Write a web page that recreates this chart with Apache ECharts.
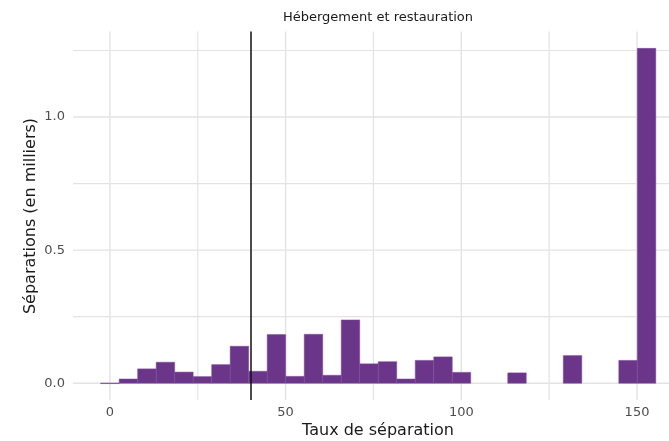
<!DOCTYPE html>
<html>
<head>
<meta charset="utf-8">
<script src="https://cdn.jsdelivr.net/npm/echarts@6/dist/echarts.min.js"></script>
<style>
  html, body { margin: 0; padding: 0; background: #ffffff; }
  #chart { width: 669px; height: 441px; }
</style>
</head>
<body>
<div id="chart"></div>
<script>
// Histogram of separation rates: bin centres (rate) and separations (thousands)
const binWidth = 5.266;
const binCenters = [0, 5.27, 10.53, 15.8, 21.06, 26.33, 31.6, 36.86, 42.13, 47.39,
  52.66, 57.93, 63.19, 68.46, 73.72, 78.99, 84.26, 89.52, 94.79, 100.05,
  105.32, 110.59, 115.85, 121.12, 126.38, 131.65, 136.92, 142.18, 147.45, 152.71];
const separations = [0.001, 0.016, 0.054, 0.079, 0.042, 0.025, 0.070, 0.139, 0.045, 0.183,
  0.026, 0.184, 0.030, 0.238, 0.073, 0.081, 0.016, 0.086, 0.099, 0.041,
  0, 0, 0.039, 0, 0, 0.104, 0, 0, 0.086, 1.258];

const xTicks = [0, 50, 100, 150];
const xMinorTicks = [25, 75, 125];
const yTicks = [0, 0.5, 1.0];
const yMinorTicks = [0.25, 0.75, 1.25];
const thresholdRate = 40;

const font = 'DejaVu Sans';
const barColor = '#6b3589';
const xRange = [-10.5, 159.1];
const yRange = [-0.0629, 1.321];

const histData = binCenters.map((c, i) => [c, separations[i]]).filter(d => d[1] > 0);

// grid line specs: [axis (0 = vertical, 1 = horizontal), value, major flag]
const gridData = [];
xTicks.forEach(v => gridData.push([0, v, 1]));
xMinorTicks.forEach(v => gridData.push([0, v, 0]));
yTicks.forEach(v => gridData.push([1, v, 1]));
yMinorTicks.forEach(v => gridData.push([1, v, 0]));

const chart = echarts.init(document.getElementById('chart'), null, { renderer: 'canvas' });
chart.setOption({
  animation: false,
  backgroundColor: '#ffffff',
  grid: { left: 73, right: 0, top: 31.6, bottom: 41 },
  xAxis: {
    type: 'value',
    min: xRange[0],
    max: xRange[1],
    axisLine: { show: false },
    axisTick: { show: false },
    splitLine: { show: false },
    axisLabel: {
      customValues: xTicks,
      color: '#4d4d4d',
      fontFamily: font,
      fontSize: 13,
      margin: 6,
      formatter: v => String(v)
    }
  },
  yAxis: {
    type: 'value',
    min: yRange[0],
    max: yRange[1],
    axisLine: { show: false },
    axisTick: { show: false },
    splitLine: { show: false },
    axisLabel: {
      customValues: yTicks,
      color: '#4d4d4d',
      fontFamily: font,
      fontSize: 13,
      margin: 8,
      formatter: v => v.toFixed(1)
    }
  },
  graphic: [
    {
      type: 'text',
      x: 378,
      y: 18,
      style: { text: 'Hébergement et restauration', font: '13px "DejaVu Sans"', fill: '#1a1a1a', align: 'center', verticalAlign: 'middle' }
    },
    {
      type: 'text',
      x: 378,
      y: 431,
      style: { text: 'Taux de séparation', font: '16px "DejaVu Sans"', fill: '#1a1a1a', align: 'center', verticalAlign: 'middle' }
    },
    {
      type: 'text',
      x: 31,
      y: 216,
      rotation: Math.PI / 2,
      style: { text: 'Séparations (en milliers)', font: '16px "DejaVu Sans"', fill: '#1a1a1a', align: 'center', verticalAlign: 'middle' }
    }
  ],
  series: [
    {
      type: 'custom',
      z: 0,
      silent: true,
      data: gridData,
      renderItem: (params, api) => {
        const axis = api.value(0);
        const v = api.value(1);
        const major = api.value(2) === 1;
        let a, b;
        if (axis === 0) {
          a = api.coord([v, yRange[1]]);
          b = api.coord([v, yRange[0]]);
        } else {
          a = api.coord([xRange[0], v]);
          b = api.coord([xRange[1], v]);
        }
        return {
          type: 'line',
          shape: { x1: a[0], y1: a[1], x2: b[0], y2: b[1] },
          style: { stroke: '#e3e3e3', lineWidth: major ? 1.4 : 1.2 }
        };
      }
    },
    {
      type: 'custom',
      z: 2,
      silent: true,
      data: histData,
      renderItem: (params, api) => {
        const c = api.value(0);
        const v = api.value(1);
        const p0 = api.coord([c - binWidth / 2, v]);
        const p1 = api.coord([c + binWidth / 2, 0]);
        return {
          type: 'rect',
          shape: { x: p0[0], y: p0[1], width: p1[0] - p0[0], height: Math.max(p1[1] - p0[1], 0.6) },
          style: { fill: barColor, stroke: '#7d4d99', lineWidth: 0.5 }
        };
      }
    },
    {
      type: 'line',
      data: [],
      silent: true,
      z: 3,
      markLine: {
        silent: true,
        symbol: 'none',
        label: { show: false },
        animation: false,
        lineStyle: { color: '#111111', width: 1.5, type: 'solid' },
        data: [{ xAxis: thresholdRate }]
      }
    }
  ]
});
</script>
</body>
</html>
